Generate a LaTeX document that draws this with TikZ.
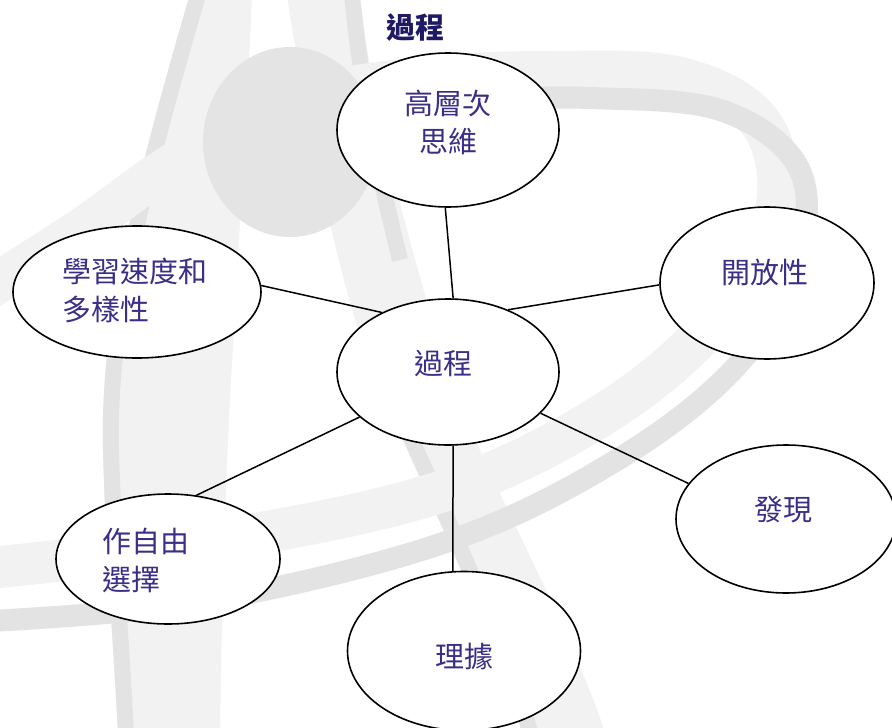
\documentclass[tikz,border=0pt]{standalone}
\usepackage{fontspec}
\newfontfamily\cjk{Noto Sans CJK TC}
\usetikzlibrary{shapes.geometric}
\definecolor{txt}{RGB}{58,47,134}
\definecolor{ttl}{RGB}{31,26,99}
\definecolor{wml}{RGB}{242,242,242}
\definecolor{wmd}{RGB}{227,227,227}
\definecolor{wmc}{RGB}{228,228,228}
\begin{document}
\begin{tikzpicture}[x=1pt,y=-1pt,
  ell/.style={ellipse, draw=black, line width=1.6pt, fill=white, inner sep=0pt},
  lbl/.style={font=\cjk\fontsize{29}{38}\selectfont, text=txt, inner sep=0pt, align=center},
  lbll/.style={lbl, align=left, anchor=west},
  link/.style={draw=black, line width=1.5pt}]
\useasboundingbox (0,0) rectangle (892,728);
\fill[white] (0,0) rectangle (892,728);
\begin{scope}
\clip (0,0) rectangle (892,728);
% band A
\fill[wml] (190,-5) .. controls (130,200) and (100,330) .. (103,450) .. controls (106,560) and (114,650) .. (118,735) -- (220,735) .. controls (222,600) and (226,460) .. (232,364) .. controls (238,250) and (248,100) .. (252,-5) -- cycle;
\draw[wmd, line width=16pt] (198,-5) .. controls (138,200) and (108,330) .. (111,450) .. controls (114,560) and (122,650) .. (126,735);
% band B
\fill[wml] (287,-5) .. controls (310,150) and (345,300) .. (370,364) .. controls (420,480) and (490,620) .. (523,735) -- (606,735) .. controls (560,600) and (480,470) .. (446,364) .. controls (410,250) and (370,100) .. (360,-5) -- cycle;
\draw[wmd, line width=16pt] (352,-5) .. controls (362,100) and (385,200) .. (400,260);
\draw[wmd, line width=16pt] (378,364) .. controls (428,480) and (498,620) .. (531,735);
% ring
\draw[wml, line width=42pt] plot[smooth, tension=0.6] coordinates {(-30,570) (220,540) (446,490) (610,410) (720,315) (775,215) (762,125) (680,78) (550,72) (420,78) (300,100) (180,160) (80,230) (-30,300)};
\draw[wmd, line width=22pt] plot[smooth, tension=0.6] coordinates {(-30,622) (200,602) (446,542) (620,458) (742,360) (800,250) (797,165) (720,110) (590,98) (470,100)};
% disk
\fill[wmc] (290,142) ellipse [x radius=87pt, y radius=95pt];
\end{scope}
% title
\node[font=\cjk\bfseries\fontsize{29}{34}\selectfont, text=ttl, inner sep=0pt] (title) at (415,28) {過程};
% ellipses
\node[ell, minimum width=222pt, minimum height=154pt] (T) at (448,130) {};
\node[ell, minimum width=222pt, minimum height=146pt] (C) at (448,372) {};
\node[ell, minimum width=248pt, minimum height=132pt] (L) at (137,292) {};
\node[ell, minimum width=214pt, minimum height=152pt] (R) at (767,283) {};
\node[ell, minimum width=220pt, minimum height=148pt] (D) at (786,519) {};
\node[ell, minimum width=224pt, minimum height=130pt] (F) at (168,559) {};
\node[ell, minimum width=233pt, minimum height=159pt] (B) at (464,651) {};
% connectors
\draw[link] (T.268) -- (C.86);
\draw[link] (L.3) -- (C.138);
\draw[link] (R.181) -- (C.46);
\draw[link] (D.160) -- (C.336);
\draw[link] (F.66) -- (C.207);
\draw[link] (B.98) -- (C.274);
% labels
\node[lbl] (tT) at (448,122) {高層次\\思維};
\node[lbl] (tC) at (443,363) {過程};
\node[lbll] (tL) at (62,290) {學習速度和\\多樣性};
\node[lbl] (tR) at (765,272) {開放性};
\node[lbl] (tD) at (783,510) {發現};
\node[lbll] (tF) at (102,560) {作自由\\選擇};
\node[lbl] (tB) at (464,656) {理據};
\end{tikzpicture}
\end{document}
